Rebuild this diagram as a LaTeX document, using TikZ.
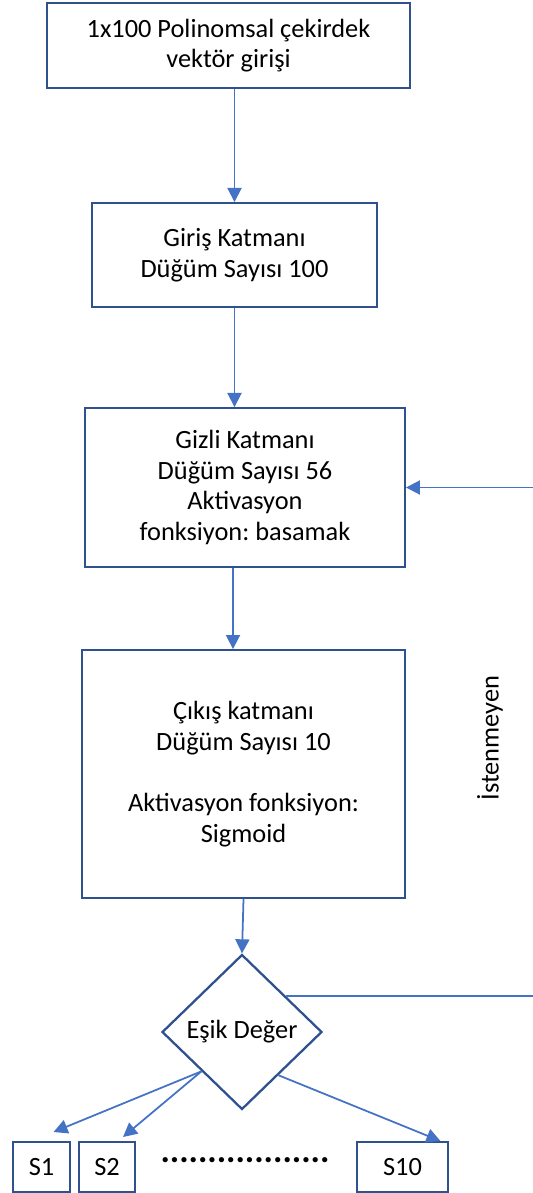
\documentclass[tikz,border=0pt]{standalone}
\usepackage{fontspec}
\setmainfont{Carlito}
\usepackage{xcolor}
\usetikzlibrary{arrows.meta, positioning, calc, shapes.geometric}

\definecolor{kenar}{HTML}{2F528F}
\definecolor{okrenk}{HTML}{4472C4}
\frenchspacing

\begin{document}
\begin{tikzpicture}[
    x=0.02cm, y=-0.02cm,
    font=\fontsize{15}{17.5}\selectfont,
    kutu/.style={draw=kenar, line width=1.1pt, align=center, inner sep=0pt},
    karar/.style={draw=kenar, line width=1.3pt, diamond, inner sep=0pt,
                  minimum width=3.2cm, minimum height=3.1cm},
    panah/.style={-{Triangle[length=8pt, width=8pt]}, draw=okrenk, line width=1pt},
    cizgi/.style={draw=okrenk, line width=1pt}
  ]
    \useasboundingbox (0,0) rectangle (533,1193);
    \node[kutu, minimum width=7.26cm, minimum height=1.70cm] (girdi) at (228.5,45.5)
      {1x100 Polinomsal çekirdek\\vektör girişi};
    \node[kutu, minimum width=5.70cm, minimum height=2.08cm] (giris) at (234.5,255)
      {Giriş Katmanı\\Düğüm Sayısı 100};
    \node[kutu, minimum width=6.40cm, minimum height=3.18cm] (gizli) at (245,487.5)
      {Gizli Katmanı\\Düğüm Sayısı 56\\Aktivasyon\\fonksiyon: basamak};
    \node[kutu, minimum width=6.46cm, minimum height=4.96cm] (cikis) at (243.5,774)
      {Çıkış katmanı\\Düğüm Sayısı 10\\[17.5pt]Aktivasyon fonksiyon:\\Sigmoid};
    \node[karar] (esik) at (242,1032) {Eşik Değer};
    \node[kutu, minimum width=1.14cm, minimum height=1.0cm] (s1) at (41.5,1167) {S1};
    \node[kutu, minimum width=1.12cm, minimum height=1.0cm] (s2) at (107,1167) {S2};
    \node[kutu, minimum width=1.82cm, minimum height=1.0cm] (s10) at (402.5,1167) {S10};
    \node[font=\fontsize{20}{20}\selectfont\bfseries] (noktalar) at (245,1160)
      {..................};
    \node[rotate=90] (istenmeyen) at (490,738) {İstenmeyen};
    % sag kenar (geri besleme)
    \coordinate (sagkenar) at (533,0);
    \coordinate (g3) at ($(gizli.south)+(-12,0)$);
    \coordinate (e1) at ($(esik.north)!0.54!(esik.east)$);
    \coordinate (e2) at ($(esik.west)!0.5!(esik.south)$);
    \coordinate (e3) at ($(esik.south)!0.45!(esik.east)$);
    \draw[panah] (giris.north |- girdi.south) -- (giris.north);
    \draw[panah] (giris.south) -- (giris.south |- gizli.north);
    \draw[panah] (g3) -- (g3 |- cikis.north);
    \draw[panah] (cikis.south) -- (esik.north);
    \draw[panah] (e2) -- ($(s1.north)+(12,-9)$);
    \draw[panah] (e2) -- ($(s2.north)+(16,-4)$);
    \draw[panah] (e3) -- ($(s10.north)+(38,0)$);
    \draw[cizgi] (e1) -- (e1 -| sagkenar);
    \draw[panah] (gizli.east -| sagkenar) -- (gizli.east);
  \end{tikzpicture}
\end{document}
